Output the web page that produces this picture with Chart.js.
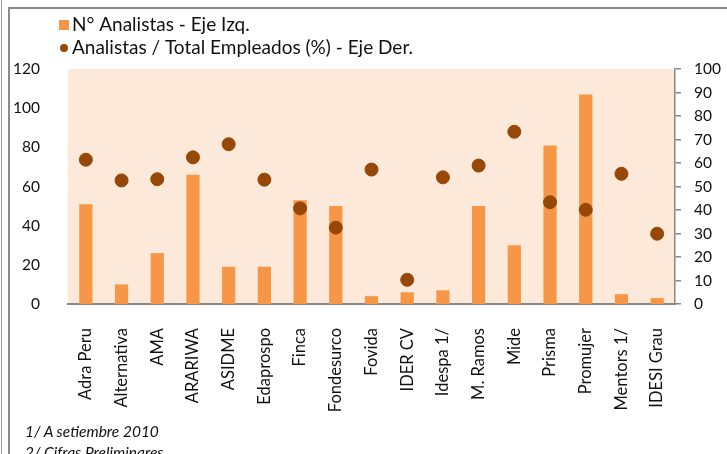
<!DOCTYPE html>
<html>
<head>
<meta charset="utf-8">
<script src="https://cdn.jsdelivr.net/npm/chart.js@4.4.0/dist/chart.umd.min.js"></script>
<style>
  body { margin: 0; background: #fff; overflow: hidden; }
  #wrap { position: relative; width: 727px; height: 454px; }
  #myChart { position: absolute; left: 0; top: 0; }
  .line1 { position: absolute; left: 1px; top: 0; width: 1px; height: 454px; background: #9a9a9a; }
  .box { position: absolute; left: 8px; top: 7px; width: 800px; height: 500px; border-left: 2px solid #8a8a8a; border-top: 2px solid #8a8a8a; }
  .note { position: absolute; left: 25px; font: italic 15.5px Lato, sans-serif; color: #111; }
</style>
</head>
<body>
<div id="wrap">
  <div class="line1"></div>
  <div class="box"></div>
  <canvas id="myChart" width="727" height="454"></canvas>
  <div class="note" style="top:422px">1/ A setiembre 2010</div>
  <div class="note" style="top:443px">2/ Cifras Preliminares</div>
</div>
<script>
const ctx = document.getElementById('myChart');

// values
const entidades = ['Adra Peru', 'Alternativa', 'AMA', 'ARARIWA', 'ASIDME', 'Edaprospo', 'Finca',
  'Fondesurco', 'Fovida', 'IDER CV', 'Idespa 1/', 'M. Ramos', 'Mide', 'Prisma', 'Promujer',
  'Mentors 1/', 'IDESI Grau'];
const nAnalistas = [51, 10, 26, 66, 19, 19, 53, 50, 4, 6, 7, 50, 30, 81, 107, 5, 3];
const pctAnalistas = [61.4, 52.6, 53.1, 62.4, 68, 52.9, 40.7, 32.5, 57.2, 10.3, 53.9, 58.9, 73.3, 43.3, 40.1, 55.4, 29.9];
const leftTicks = [0, 20, 40, 60, 80, 100, 120];
const rightTicks = [0, 10, 20, 30, 40, 50, 60, 70, 80, 90, 100];

const barColor = '#F79646';
const dotColor = '#974706';

// peach plot background + the two line legend on top
const decoPlugin = {
  id: 'deco',
  beforeDraw(chart) {
    const a = chart.chartArea;
    const c = chart.ctx;
    c.save();
    c.fillStyle = '#FDE9D9';
    c.fillRect(a.left, a.top, a.right - a.left, a.bottom - a.top);
    c.restore();
  },
  afterDraw(chart) {
    const c = chart.ctx;
    const bars = chart.data.datasets.find(d => d.type === 'bar');
    const dots = chart.data.datasets.find(d => d.type === 'scatter');
    c.save();
    c.font = '19px Lato, sans-serif';
    c.textBaseline = 'middle';
    c.textAlign = 'left';

    c.fillStyle = barColor;
    c.fillRect(59, 20, 10, 10);
    c.fillStyle = '#111';
    c.fillText(bars.label, 72, 25);

    c.fillStyle = dotColor;
    c.beginPath();
    c.arc(64, 48, 4, 0, Math.PI * 2);
    c.fill();
    c.fillStyle = '#111';
    c.fillText(dots.label, 72, 48);
    c.restore();
  }
};

new Chart(ctx, {
  data: {
    labels: entidades,
    datasets: [{
      type: 'scatter',
      label: 'Analistas / Total Empleados (%) - Eje Der.',
      data: pctAnalistas,
      yAxisID: 'y1',
      backgroundColor: dotColor,
      borderColor: dotColor,
      pointRadius: 6.5,
      showLine: false,
      order: 0
    }, {
      type: 'bar',
      label: 'N° Analistas - Eje Izq.',
      data: nAnalistas,
      yAxisID: 'y',
      backgroundColor: barColor,
      barPercentage: 0.37,
      categoryPercentage: 1,
      order: 1
    }]
  },
  options: {
    responsive: false,
    animation: false,
    layout: { padding: { top: 69, left: 0, right: 0, bottom: 0 } },
    plugins: {
      legend: { display: false },
      tooltip: { enabled: false }
    },
    scales: {
      x: {
        type: 'category',
        grid: { display: false },
        border: { display: true, color: '#878787', width: 2 },
        ticks: {
          color: '#111',
          font: { family: 'Lato', size: 16.5 },
          minRotation: 90,
          maxRotation: 90,
          autoSkip: false,
          padding: 16
        },
        afterFit: (s) => { s.height = 150; }
      },
      y: {
        position: 'left',
        min: 0,
        max: 120,
        grid: { display: false },
        border: { display: false },
        afterBuildTicks: (s) => { s.ticks = leftTicks.map(v => ({ value: v })); },
        ticks: { color: '#111', font: { family: 'Lato', size: 15.5 }, padding: 20 },
        afterFit: (s) => { s.width = 68; }
      },
      y1: {
        position: 'right',
        min: 0,
        max: 100,
        grid: { display: true, drawOnChartArea: false, drawTicks: true, tickLength: 6, color: '#878787', lineWidth: 1.5 },
        border: { display: true, color: '#878787', width: 1.5 },
        afterBuildTicks: (s) => { s.ticks = rightTicks.map(v => ({ value: v })); },
        ticks: { color: '#111', font: { family: 'Lato', size: 15.5 }, padding: 13 },
        afterFit: (s) => { s.width = 52; }
      }
    }
  },
  plugins: [decoPlugin]
});
</script>
</body>
</html>
